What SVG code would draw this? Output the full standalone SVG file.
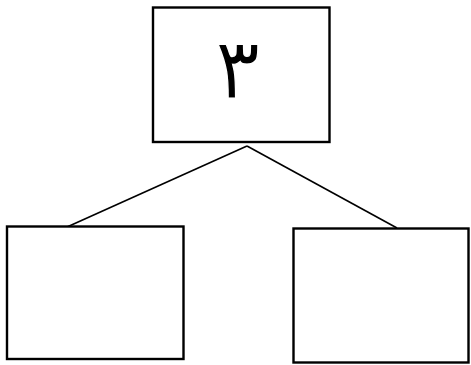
<svg xmlns="http://www.w3.org/2000/svg" width="471" height="365" viewBox="0 0 471 365">
<style>
.box{fill:#fff;stroke:#000;stroke-width:2.4}
.edge{stroke:#000;stroke-width:1.6;fill:none}
.lbl{font-family:"DejaVu Sans Mono","DejaVu Sans",monospace;font-size:84px;fill:#000;text-anchor:middle;stroke:#fff;stroke-width:1.2}
</style>
<rect width="471" height="365" fill="#fff"/>
<g id="connectors">
<line class="edge" x1="247" y1="146" x2="67" y2="227"/>
<line class="edge" x1="247" y1="146" x2="397" y2="228"/>
</g>
<g id="root">
<rect class="box" x="153" y="7.5" width="176.5" height="134.5"/>
<text class="lbl" x="238" y="98">٣</text>
</g>
<g id="left">
<rect class="box" x="7" y="226.5" width="176.5" height="132.5"/>
</g>
<g id="right">
<rect class="box" x="293.5" y="228.5" width="175" height="134"/>
</g>
</svg>
